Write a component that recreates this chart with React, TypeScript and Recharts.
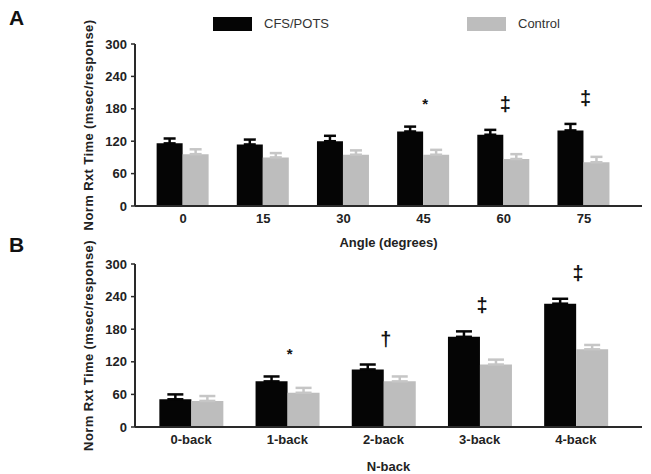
import React from 'react';
import { BarChart, Bar, XAxis, YAxis, ErrorBar, LabelList } from 'recharts';

// Panel A: tilt angle
const angleCats = ['0', '15', '30', '45', '60', '75'];
const angleCfs = [116, 114, 120, 138, 132, 140];
const angleCfsErr = [9, 9, 10, 9, 9, 12];
const angleCtl = [96, 90, 95, 95, 87, 81];
const angleCtlErr = [9, 8, 8, 9, 9, 10];
const angleSig = ['', '', '', '*', '‡', '‡'];

// Panel B: N-back
const nbackCats = ['0-back', '1-back', '2-back', '3-back', '4-back'];
const nbackCfs = [51, 84, 106, 166, 227];
const nbackCfsErr = [9, 9, 9, 10, 9];
const nbackCtl = [48, 63, 84, 115, 143];
const nbackCtlErr = [9, 9, 9, 9, 8];
const nbackSig = ['', '*', '†', '‡', '‡'];

const yTicks = [0, 60, 120, 180, 240, 300];

const FONT = '"Liberation Sans", Arial, sans-serif';
const BLACK = '#050505';
const GREY = '#bdbdbd';
const AXIS = '#2a2a2a';

const seriesKeys = [
  { name: 'CFS/POTS', color: BLACK },
  { name: 'Control', color: GREY },
];

const buildRows = (
  cats: string[],
  cfs: number[],
  cfsErr: number[],
  ctl: number[],
  ctlErr: number[],
  sig: string[]
) =>
  cats.map((c, i) => ({
    cat: c,
    cfs: cfs[i],
    cfsErr: [0, cfsErr[i]],
    ctl: ctl[i],
    ctlErr: [0, ctlErr[i]],
    sig: sig[i],
  }));

const makeSigMark = (cfs: number[], err: number[]) => (props: any) => {
  const { index, value } = props;
  if (!value) return null;
  const vb = props.viewBox ?? props;
  const unit = vb.height / cfs[index];
  const errTop = vb.y - err[index] * unit;
  return (
    <text
      x={vb.x + vb.width + 2}
      y={errTop - 26}
      textAnchor="middle"
      dominantBaseline="central"
      fontFamily={FONT}
      fontWeight="bold"
      fontSize={value === '*' ? 15 : 20}
      fill="#111"
      dy={value === '*' ? 3 : 0}
    >
      {value}
    </text>
  );
};

const LegendBoxes = () => (
  <div style={{ position: 'absolute', left: 0, top: 0, width: 651, height: 40 }}>
    {seriesKeys.map((it, i) => (
      <div key={it.name} style={{ position: 'absolute', left: 213 + i * 254, top: 17, display: 'flex', alignItems: 'center' }}>
        <div style={{ width: 39, height: 14, background: it.color }} />
        <span style={{ marginLeft: 12, fontFamily: FONT, fontSize: 13, color: '#333', lineHeight: '14px' }}>{it.name}</span>
      </div>
    ))}
  </div>
);

interface PanelProps {
  rows: ReturnType<typeof buildRows>;
  cfs: number[];
  cfsErr: number[];
  xLabel: string;
  top: number;
  height: number;
  marginTop: number;
  xAxisHeight: number;
  capW: number;
  letter: string;
  letterTop: number;
}

const labelStyle = { fill: '#222', fontSize: 13, fontWeight: 'bold', fontFamily: FONT };

const Panel: React.FC<PanelProps> = ({ rows, cfs, cfsErr, xLabel, top, height, marginTop, xAxisHeight, capW, letter, letterTop }) => (
  <div style={{ position: 'absolute', left: 0, top, width: 651, height }}>
    <div style={{ position: 'absolute', left: 9, top: letterTop, fontFamily: FONT, fontWeight: 'bold', fontSize: 21, color: '#111' }}>
      {letter}
    </div>
    <BarChart
      width={651}
      height={height}
      data={rows}
      margin={{ top: marginTop, right: 9, bottom: 0, left: 0 }}
      barCategoryGap="17%"
      barGap={0}
    >
      <XAxis
        dataKey="cat"
        height={xAxisHeight}
        padding={{ left: 8, right: 18 }}
        tickLine={false}
        tickSize={5}
        tickMargin={3}
        axisLine={{ stroke: AXIS, strokeWidth: 2 }}
        tick={labelStyle}
        label={{ value: xLabel, position: 'insideBottom', offset: 3, style: labelStyle }}
      />
      <YAxis
        width={135}
        domain={[0, 300]}
        ticks={yTicks}
        interval={0}
        tickSize={4}
        tickMargin={4}
        tickLine={{ stroke: AXIS, strokeWidth: 1.5 }}
        axisLine={{ stroke: AXIS, strokeWidth: 2 }}
        tick={labelStyle}
        label={{
          value: 'Norm Rxt Time (msec/response)',
          angle: -90,
          position: 'insideLeft',
          offset: 88,
          style: { ...labelStyle, textAnchor: 'middle', letterSpacing: 0.4 },
        }}
      />
      <Bar dataKey="cfs" name={seriesKeys[0].name} fill={BLACK} isAnimationActive={false}>
        <ErrorBar dataKey="cfsErr" direction="y" width={capW} stroke={BLACK} strokeWidth={2.5} />
        <LabelList dataKey="sig" content={makeSigMark(cfs, cfsErr)} />
      </Bar>
      <Bar dataKey="ctl" name={seriesKeys[1].name} fill={GREY} isAnimationActive={false}>
        <ErrorBar dataKey="ctlErr" direction="y" width={capW} stroke="#c6c6c6" strokeWidth={2.5} />
      </Bar>
    </BarChart>
  </div>
);

const angleRows = buildRows(angleCats, angleCfs, angleCfsErr, angleCtl, angleCtlErr, angleSig);
const nbackRows = buildRows(nbackCats, nbackCfs, nbackCfsErr, nbackCtl, nbackCtlErr, nbackSig);

export default function App() {
  return (
    <div style={{ position: 'absolute', left: 0, top: 0, width: 651, height: 474, background: '#fff' }}>
      <Panel
        rows={angleRows}
        cfs={angleCfs}
        cfsErr={angleCfsErr}
        xLabel="Angle (degrees)"
        top={0}
        height={250}
        marginTop={44}
        xAxisHeight={44}
        capW={6}
        letter="A"
        letterTop={6}
      />
      <Panel
        rows={nbackRows}
        cfs={nbackCfs}
        cfsErr={nbackCfsErr}
        xLabel="N-back"
        top={237}
        height={237}
        marginTop={27}
        xAxisHeight={47}
        capW={8}
        letter="B"
        letterTop={-4}
      />
      <LegendBoxes />
    </div>
  );
}
